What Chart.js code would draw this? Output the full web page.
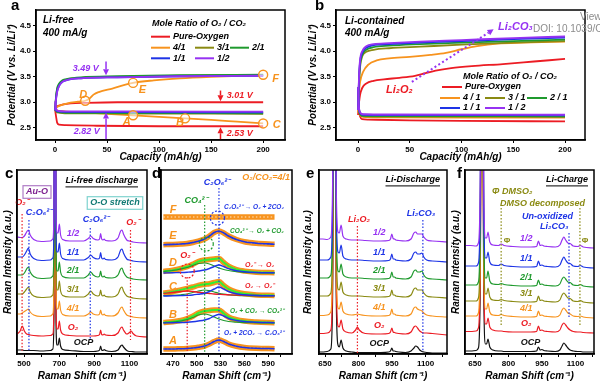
<!DOCTYPE html>
<html>
<head>
<meta charset="utf-8">
<title>O2/CO2 discharge-charge and Raman panels</title>
<script src="https://cdn.jsdelivr.net/npm/chart.js@4.4.1/dist/chart.umd.min.js"></script>
<style>
  body { margin: 0; background: #fff; }
  #wrap { position: relative; width: 600px; height: 384px; overflow: hidden; }
  canvas { position: absolute; }
  .tag { position: absolute; font: bold 15px "Liberation Sans", Arial, sans-serif; color: #000; line-height: 17px; }
  .wm { position: absolute; font: 10px "Liberation Sans", Arial, sans-serif; color: #8c8c8c; white-space: nowrap; }
</style>
</head>
<body>
<div id="wrap">
  <canvas id="chartA" width="292" height="163" style="left:0;top:0"></canvas>
  <canvas id="chartB" width="300" height="163" style="left:300px;top:0"></canvas>
  <canvas id="chartC" width="150" height="217" style="left:0;top:165px"></canvas>
  <canvas id="chartD" width="150" height="217" style="left:150px;top:165px"></canvas>
  <canvas id="chartE" width="152" height="217" style="left:298px;top:165px"></canvas>
  <canvas id="chartF" width="150" height="217" style="left:450px;top:165px"></canvas>
  <div class="tag" style="left:11px;top:-4px">a</div>
  <div class="tag" style="left:315px;top:-4px">b</div>
  <div class="tag" style="left:5px;top:164px">c</div>
  <div class="tag" style="left:152px;top:164px">d</div>
  <div class="tag" style="left:306px;top:164px">e</div>
  <div class="tag" style="left:457px;top:164px">f</div>
  <div class="wm" style="left:580px;top:11px">View Article Online</div>
  <div class="wm" style="left:533px;top:23px">DOI: 10.1039/C6EE</div>
</div>
<script>
const FONT = '"Liberation Sans", Arial, sans-serif';
const RED = '#ec1c24', ORANGE = '#f7931e', OLIVE = '#8a8a12', GREEN = '#1f9a2e',
      BLUE = '#1e34e6', PURPLE = '#9632f2', BLACK = '#111111', LIME = '#33ee33';

// ---- panels a / b : galvanostatic curves, [capacity, potential] ----
const ratioNames = ['Pure-Oxygen', '4/1', '3/1', '2/1', '1/1', '1/2'];
const ratioNamesB = ['Pure-Oxygen', '4 / 1', '3 / 1', '2 / 1', '1 / 1', '1 / 2'];
const ratioColors = [RED, ORANGE, OLIVE, GREEN, BLUE, PURPLE];
const capTicks = [0, 50, 100, 150, 200];
const potTicks = [2.5, 3.0, 3.5, 4.0, 4.5];

const aDisO2 = [[0,2.86],[1,2.72],[2,2.6],[4,2.56],[10,2.55],[40,2.54],[100,2.53],[200,2.53]];
const aChgO2 = [[0,2.9],[3,2.93],[8,2.96],[15,2.98],[30,2.99],[60,3.0],[200,3.0]];
const aDis41 = [[0,2.85],[5,2.83],[25,2.8],[50,2.775],[75,2.745],[100,2.715],[125,2.685],[150,2.655],[175,2.62],[200,2.585]];
const aChg41 = [[0,2.88],[4,2.93],[12,2.98],[22,3.01],[29,3.03],[33,3.07],[37,3.15],[42,3.2],[55,3.27],[75,3.38],[95,3.43],[120,3.47],[150,3.5],[200,3.535]];
const aDis31 = [[0,2.86],[2,2.8],[10,2.785],[60,2.78],[200,2.775]];
const aChg31 = [[0,2.84],[1,3.1],[2,3.25],[4,3.35],[7,3.41],[12,3.45],[25,3.48],[60,3.5],[120,3.52],[200,3.53]];
const aDis21 = [[0,2.87],[2,2.81],[10,2.795],[60,2.79],[200,2.785]];
const aChg21 = [[0,2.84],[1,3.12],[2,3.27],[4,3.37],[7,3.43],[12,3.46],[25,3.49],[60,3.51],[120,3.53],[200,3.54]];
const aDis11 = [[0,2.88],[2,2.82],[10,2.81],[60,2.805],[200,2.8]];
const aChg11 = [[0,2.84],[1,3.08],[2,3.22],[4,3.33],[7,3.4],[12,3.44],[25,3.47],[60,3.49],[120,3.51],[200,3.52]];
const aDis12 = [[0,3.02],[1,2.88],[3,2.83],[10,2.82],[60,2.82],[200,2.815]];
const aChg12 = [[0,2.84],[1,3.06],[2,3.2],[4,3.32],[7,3.4],[12,3.44],[25,3.47],[60,3.49],[120,3.51],[200,3.52]];
const aMarks = [[75,2.745],[125,2.685],[200,2.585],[29,3.03],[75,3.38],[200,3.54]];
const aMarkNames = ['A', 'B', 'C', 'D', 'E', 'F'];

const bDisO2 = [[0,3.3],[1,2.85],[2,2.72],[4,2.67],[10,2.66],[50,2.645],[100,2.635],[200,2.625]];
const bChgO2 = [[0,2.75],[1,3.0],[2,3.15],[4,3.28],[8,3.37],[15,3.42],[25,3.45],[40,3.48],[55,3.52],[65,3.57],[75,3.62],[90,3.67],[110,3.71],[140,3.75],[170,3.8],[200,3.85]];
const bDis41 = [[0,3.3],[1,2.85],[2,2.75],[5,2.715],[20,2.705],[100,2.7],[200,2.7]];
const bChg41 = [[0,2.8],[1,3.2],[2,3.4],[5,3.6],[10,3.74],[18,3.82],[30,3.86],[50,3.89],[70,3.93],[85,3.97],[100,4.04],[115,4.1],[135,4.15],[160,4.17],[200,4.19]];
const bDis31 = [[0,3.3],[1,2.85],[2,2.76],[5,2.725],[30,2.72],[200,2.715]];
const bChg31 = [[0,2.85],[1,3.4],[2,3.7],[4,3.9],[8,3.99],[15,4.03],[30,4.06],[60,4.09],[100,4.13],[150,4.17],[200,4.2]];
const bDis21 = [[0,3.3],[1,2.86],[2,2.77],[5,2.735],[30,2.73],[200,2.725]];
const bChg21 = [[0,2.85],[1,3.45],[2,3.75],[4,3.93],[8,4.03],[15,4.08],[30,4.11],[60,4.14],[100,4.17],[150,4.2],[200,4.23]];
const bDis11 = [[0,3.3],[1,2.87],[2,2.79],[5,2.755],[30,2.75],[200,2.745]];
const bChg11 = [[0,2.85],[1,3.5],[2,3.8],[4,3.97],[8,4.07],[15,4.12],[30,4.14],[60,4.17],[100,4.2],[150,4.24],[200,4.27]];
const bDis12 = [[0,3.3],[1,2.88],[2,2.8],[5,2.765],[30,2.76],[200,2.755]];
const bChg12 = [[0,2.85],[1,3.55],[2,3.85],[4,4.0],[8,4.1],[15,4.14],[30,4.16],[60,4.19],[100,4.22],[150,4.26],[200,4.29]];

// ---- panels c / e / f : stacked Raman spectra (intensity above own baseline) ----
const stackNames = ['OCP', 'O₂', '4/1', '3/1', '2/1', '1/1', '1/2'];
const stackColors = [BLACK, RED, ORANGE, OLIVE, GREEN, BLUE, PURPLE];

const cX = [460,478,490,502,515,525,535,555,600,650,664,670,676,682,688,694,701,708,720,760,840,866,880,894,920,930,936,942,950,956,964,1000,1035,1050,1058,1066,1085,1100,1110,1120,1140,1200];
const cOCP = [2,2,2,1.5,1.5,1.5,1.5,1.5,1,1.5,3,30,400,30,7,7,14,6,2.5,1.5,0.5,0.5,0.5,0.5,1,2,6,2,1.5,2.5,1.5,0.5,2,6,7,5,1.5,0.5,0.5,0.3,0,0];
const cO2  = [3,6,11,6,3,2.5,2,1.5,1,1.5,3,30,400,30,8,8,16,7,3,1.5,1,1,1,1,1.5,2.5,7,2.5,2,3,2,1.5,4,9,10,7,3,4.5,6,3.5,1,0];
const c41  = [4,4,5,6.5,8,9,6,3,1.5,2,4,30,400,30,9,9,17,8,3.5,2,2,4,6,4,3,4,8,4,3,4,2.5,2,5,10,11,8,3,2,1.5,1,0.5,0];
const c31  = [5,5,5,7,10,12,7,3,1.5,2,4,30,400,30,9,9,18,8,3.5,2,2,5,8,5,3,4,9,4,3,4,2.5,2,5,11,12,8,3,2,1.5,1,0.5,0];
const c21  = [5,5,5,7,11,13,8,3.5,1.5,2,4,30,400,30,9,9,18,8,3.5,2,2,5,8,5,3,4,9,4,3,4,2.5,2,5,11,12,8,3,2,1.5,1,0.5,0];
const c11  = [5,5,5,7,11,14,8,3.5,1.5,2,4,30,400,30,10,10,19,8,3.5,2,2,4.5,7,4.5,3,4,9.5,4,3,4,2.5,2,5,12,13,9,3,2,1.5,1,0.5,0];
const c12  = [6,5.5,5.5,7,11,13,8,3.5,1.5,2,4,30,400,30,10,10,19,8,3.5,2,2,4.5,7,4.5,3,4,9.5,4,3,4,2.5,2,5,12,13,9,3,2,1.5,1,0.5,0];
const cOff = [2, 17, 36, 55, 74, 92, 111];
const cTicks = [500, 600, 700, 800, 900, 1000, 1100];
const cLabels = [500, 700, 900, 1100];

const eX = [620,640,660,676,684,692,700,708,714,722,730,745,770,787,795,803,830,900,935,943,949,955,961,967,980,1010,1035,1048,1056,1064,1074,1084,1092,1105,1130,1196];
const eOCP = [1,1,1.5,4,60,400,60,8,6,13,5,2,1,0.5,0.5,0.5,0.5,0.5,1,2,5,2,2,1.5,1,0.5,2,5,7,6,3,1.5,1,0.5,0,0];
const eO2  = [1.5,1.5,2,5,60,400,60,9,8,15,6,3,2,5,8,5,1.5,1,1.5,3,7,3,2.5,2,1.5,1,3,8,9,7,4,2.5,2,2,1.5,0];
const e41  = [1.5,1.5,2,5,60,400,60,9,8,15,6,3,2,2.5,3,2.5,1.5,1,1.5,3,8,3,3,2,1.5,1,3,9,10,8,7,6,4,2,1,0];
const e31  = [2,2,2,5,60,400,60,9,8,16,6,3,2,2,2,2,1.5,1,1.5,3,8,3,3,2,1.5,1,3,9,10,8,8,8,5,2,1,0];
const e21  = [2,2,2,5,60,400,60,9,8,16,6,3,2,2,2,2,1.5,1,1.5,3,8,3,3,2,1.5,1,3,9,10,8,8,9,5,2,1,0];
const e11  = [2,2,2,5,60,400,60,10,9,17,6,3,2,2,2,2,1.5,1,1.5,3,8,3,3,2,1.5,1,3,9,10,8,8,9,5,2,1,0];
const e12  = [3,3,2.5,5,60,400,60,10,9,17,6,3,2,2,2,2,1.5,1,1.5,3,8,3.5,3,2,1.5,1,3,9,10,8,8,8,5,2,1,0];
const eOff = [1, 19, 37, 56, 74, 92, 112];

const fX = [605,630,655,665,673,681,689,697,702,708,716,730,755,767,780,820,900,926,934,942,950,958,975,1010,1030,1040,1048,1056,1066,1076,1090,1110,1122,1135,1183];
const fOCP = [1,1,1.5,4,60,400,60,8,8,13,5,2,1,1,0.5,0.5,0.5,1,5,2,2.5,1.5,1,0.5,2,6,9,7,4,2,1,0.5,0.5,0,0];
const fO2  = [1.5,1.5,2,5,60,400,60,9,9,15,6,3,2,2,1.5,1,1,1.5,7,2.5,3,2,1.5,1,3,8,10,8,5,3,1.5,1,1,0.5,0];
const f41  = [2,2,2,5,60,400,60,9,9,15,6,3,2.5,3.5,2.5,1.5,1,1.5,7,2.5,3,2,1.5,1,3,8,10,8,5,4,2,1.5,2,1,0];
const f31  = [2,2,2,5,60,400,60,9,9,15,6,3,2.5,3.5,2.5,1.5,1,1.5,7,2.5,3,2,1.5,1,3,8,10,8,5,4.5,2,1.5,2.5,1,0];
const f21  = [2,2,2,5,60,400,60,9,9,16,6,3,2.5,3.5,2.5,1.5,1,1.5,7,2.5,3,2,1.5,1,3,8,10,8,5,4.5,2,1.5,2.5,1,0];
const f11  = [2,2,2,5,60,400,60,10,10,16,6,3,2.5,4,2.5,1.5,1,1.5,7,2.5,3,2,1.5,1,3,8,11,8,5,4.5,2,1.5,2.5,1,0];
const f12  = [2.5,2.5,2,5,60,400,60,10,10,16,6,3,2.5,4,2.5,1.5,1,1.5,7,2.5,3,2,1.5,1,3,8,11,8,5,4.5,2,1.5,2.5,1,0];
const fOff = [2, 21, 36, 51, 67, 86, 106];
const efTicks = [650, 725, 800, 875, 950, 1025, 1100, 1175];
const efLabels = [650, 800, 950, 1100];

// ---- panel d : fitted 500-530 cm-1 region, states A..F ----
const dNames = ['A', 'B', 'C', 'D', 'E', 'F'];
const dX = [458,470,480,488,495,502,510,516,522,528,534,540,550,560,575,598];
const dA = [0,0,0.3,0.5,1,1.8,3,5,7.5,9,7.5,5,2.8,1.6,0.8,0.3];
const dB = [0.5,1.3,2.5,4.3,6.8,10,12,12.5,13,13,9.5,6,3.3,1.9,1,0.3];
const dBgreen = [0.5,1,2,3.5,5.5,8,9,8,6,4,2.5,1.5,0.8,0.4,0.2,0];
const dBblue = [0,0.3,0.5,0.8,1.3,2,3,4.5,7,8.5,7,4.5,2.5,1.5,0.8,0.3];
const dC = [2.8,4.3,6.1,7.6,9,10.6,11.8,12.3,13.5,14.5,10.5,7,3.8,2.2,1.1,0.5];
const dCred = [2.5,3.5,4.5,5,4.5,3.8,3,2.5,2,1.7,1.4,1.2,0.9,0.7,0.5,0.3];
const dCgreen = [0.3,0.6,1.2,2,3.5,5,6,5.3,4,2.7,1.8,1.2,0.6,0.3,0.1,0];
const dCblue = [0,0.2,0.4,0.6,1,1.8,2.8,4.5,7,9,7,4.5,2.2,1.2,0.5,0.2];
const dD = [1.5,2.8,4.5,6.3,8.7,11.5,13,13.5,14,14.5,10.5,7,3.5,1.9,0.8,0.3];
const dDgreen = [1.5,2.5,4,5.5,7.5,9.5,10,9,7,5,3.5,2.5,1.3,0.7,0.3,0.1];
const dDblue = [0,0.3,0.5,0.8,1.2,2,3,4.5,6.5,8,6.5,4.3,2.2,1.2,0.5,0.2];
const dE = [0.3,0.6,1,1.5,2.5,3.8,6,9,12.5,14,12,9,5.5,3.3,1.8,0.8];
const dF = [0,0,0,0,0,0,0,0,0,0,0,0,0,0,0,0];
const dOff = [5, 31, 58, 81, 109, 137];
const dTicks = [470, 485, 500, 515, 530, 545, 560, 575, 590, 605];
const dLabels = [470, 500, 530, 560, 590];

// ---------------------------------------------------------------
Chart.defaults.font.family = FONT;
Chart.defaults.color = '#000';

const pairs = arr => arr.map(p => ({ x: p[0], y: p[1] }));
const stacked = (xs, ys, off) => xs.map((x, i) => ({ x, y: ys[i] + off }));

function fnt(size, italic) {
  return (italic ? 'italic ' : '') + 'bold ' + size + 'px ' + FONT;
}

function drawArrow(ctx, x1, y1, x2, y2, c, dash, w) {
  const a = Math.atan2(y2 - y1, x2 - x1), h = 6;
  const xs = x2 - h * Math.cos(a), ys = y2 - h * Math.sin(a);
  ctx.strokeStyle = c; ctx.fillStyle = c; ctx.lineWidth = w || 1.5;
  ctx.setLineDash(dash || []);
  ctx.beginPath(); ctx.moveTo(x1, y1); ctx.lineTo(xs, ys); ctx.stroke();
  ctx.setLineDash([]);
  ctx.beginPath();
  ctx.moveTo(x2, y2);
  ctx.lineTo(xs - 3 * Math.sin(a), ys + 3 * Math.cos(a));
  ctx.lineTo(xs + 3 * Math.sin(a), ys - 3 * Math.cos(a));
  ctx.closePath(); ctx.fill();
}

function drawLabel(ctx, s, x, y, t) {
  const size = t.size || 9;
  ctx.font = fnt(size, t.it !== false);
  ctx.fillStyle = t.c || '#000';
  ctx.textAlign = t.align || 'left';
  ctx.textBaseline = 'middle';
  ctx.fillText(s, x, y);
  const w = ctx.measureText(s).width;
  const x0 = t.align === 'right' ? x - w : t.align === 'center' ? x - w / 2 : x;
  if (t.ul) ctx.fillRect(x0, y + size * 0.6, w, 1);
  if (t.box) {
    ctx.strokeStyle = t.box; ctx.lineWidth = 1.2;
    ctx.strokeRect(x0 - 3, y - size * 0.7, w + 6, size * 1.4);
  }
}

// per-canvas decorations: guide lines, arrows, texts, legends, frame
const decoCfg = {};

const deco = {
  id: 'deco',
  afterDatasetsDraw(chart) {
    const o = decoCfg[chart.canvas.id] || {};
    const { ctx, chartArea: ca } = chart;
    const X = v => chart.scales.x.getPixelForValue(v);
    const Y = v => chart.scales.y.getPixelForValue(v);
    ctx.save();
    (o.vlines || []).forEach(l => {
      ctx.strokeStyle = l.c; ctx.lineWidth = 1.2; ctx.setLineDash([1.5, 1.8]);
      ctx.beginPath(); ctx.moveTo(X(l.x), Y(l.y1)); ctx.lineTo(X(l.x), Y(l.y2)); ctx.stroke();
    });
    (o.circles || []).forEach(k => {
      ctx.strokeStyle = k.c; ctx.lineWidth = 1.2; ctx.setLineDash([2, 1.8]);
      ctx.beginPath(); ctx.arc(X(k.x), Y(k.y), k.r, 0, Math.PI * 2); ctx.stroke();
    });
    ctx.setLineDash([]);
    (o.arrows || []).forEach(a => drawArrow(ctx, X(a.x1), Y(a.y1), X(a.x2), Y(a.y2), a.c, a.dash, a.w));
    (o.texts || []).forEach(t => {
      const px = t.rel ? ca.left + t.x : X(t.x);
      const py = t.rel ? ca.top + t.y : Y(t.y);
      drawLabel(ctx, t.t, px, py, t);
    });
    if (o.stack) {
      const s = o.stack;
      s.offsets.forEach((off, i) => {
        drawLabel(ctx, stackNames[i], X(s.x + (i === 0 ? s.ocpDx : 0)), Y(off + s.dy[i]),
          { c: stackColors[i], size: 9, align: 'center' });
      });
    }
    if (o.legend) {
      const L = o.legend;
      drawLabel(ctx, L.title, ca.left + L.tx, ca.top + L.ty, { size: 9 });
      L.pos.forEach((p, i) => {
        const x = ca.left + p[0], y = ca.top + p[1];
        ctx.strokeStyle = ratioColors[i]; ctx.lineWidth = 2;
        ctx.beginPath(); ctx.moveTo(x, y); ctx.lineTo(x + L.len, y); ctx.stroke();
        drawLabel(ctx, L.names[i], x + L.len + 3, y, { size: 9 });
      });
    }
    ctx.strokeStyle = '#000'; ctx.lineWidth = 1.5;
    ctx.strokeRect(ca.left, ca.top, ca.width, ca.height);
    ctx.restore();
  }
};

function xAxis(min, max, ticks, labels, fmt, title, h) {
  return {
    type: 'linear', min, max,
    afterBuildTicks: s => { s.ticks = ticks.map(v => ({ value: v })); },
    afterFit: s => { s.height = h; },
    ticks: {
      autoSkip: false, maxRotation: 0, padding: 2, color: '#000',
      font: { size: 8, weight: 'bold' },
      callback: v => labels.includes(v) ? fmt(v) : ''
    },
    grid: { drawOnChartArea: false, drawTicks: true, tickLength: 3, color: '#000' },
    border: { display: true, color: '#000', width: 1.5 },
    title: { display: true, text: title, color: '#000', padding: 0,
      font: { size: 10, weight: 'bold', style: 'italic' } }
  };
}

function yAxis(min, max, ticks, fmt, title, w) {
  return {
    type: 'linear', min, max,
    afterBuildTicks: s => { s.ticks = (ticks || []).map(v => ({ value: v })); },
    afterFit: s => { s.width = w; },
    ticks: {
      display: !!ticks, padding: 2, color: '#000',
      font: { size: 8, weight: 'bold' },
      callback: v => fmt ? fmt(v) : ''
    },
    grid: { drawOnChartArea: false, drawTicks: !!ticks, tickLength: 3, color: '#000' },
    border: { display: true, color: '#000', width: 1.5 },
    title: { display: !!title, text: title, color: '#000', padding: 0,
      font: { size: 10, weight: 'bold', style: 'italic' } }
  };
}

function makeChart(id, datasets, pad, x, y) {
  return new Chart(document.getElementById(id), {
    type: 'line',
    data: { datasets },
    options: {
      responsive: false, animation: false, events: [],
      layout: { padding: pad },
      elements: { point: { radius: 0 }, line: { borderWidth: 1.3 } },
      plugins: { legend: { display: false }, tooltip: { enabled: false } },
      scales: { x, y }
    },
    plugins: [deco]
  });
}

function curve(data, color, width, order) {
  return { data, borderColor: color, borderWidth: width, order,
    cubicInterpolationMode: 'monotone', pointRadius: 0 };
}

// ---------------- panel a ----------------
const aCurves = [[aDisO2, aChgO2], [aDis41, aChg41], [aDis31, aChg31], [aDis21, aChg21], [aDis11, aChg11], [aDis12, aChg12]];
const aSets = [];
aCurves.forEach((pr, i) => pr.forEach(arr => aSets.push(curve(pairs(arr), ratioColors[i], 1.8, 10 - i))));
aSets.push({ data: pairs(aMarks), showLine: false, pointRadius: 4.5, pointBorderWidth: 1.4,
  pointBorderColor: ORANGE, pointBackgroundColor: 'rgba(255,255,255,0.55)', order: 0 });

decoCfg.chartA = {
  arrows: [
    { x1: 49, y1: 3.8, x2: 49, y2: 3.53, c: PURPLE },
    { x1: 49, y1: 2.27, x2: 49, y2: 2.8, c: PURPLE },
    { x1: 159, y1: 3.23, x2: 159, y2: 3.02, c: RED },
    { x1: 159, y1: 2.27, x2: 159, y2: 2.51, c: RED }
  ],
  texts: [
    { t: 'Li-free', x: 7, y: 10, rel: true, size: 10 },
    { t: '400 mA/g', x: 7, y: 23, rel: true, size: 10 },
    { t: '3.49 V', x: 42, y: 3.67, c: PURPLE, align: 'right' },
    { t: '2.82 V', x: 43, y: 2.42, c: PURPLE, align: 'right' },
    { t: '3.01 V', x: 165, y: 3.14, c: RED },
    { t: '2.53 V', x: 165, y: 2.39, c: RED },
    ...aMarkNames.map((n, i) => ({ t: n, x: [69, 120, 213, 27, 84, 212][i], y: [2.62, 2.6, 2.55, 3.14, 3.25, 3.46][i],
      c: ORANGE, size: 11, align: 'center' }))
  ],
  legend: { title: 'Mole Ratio of O₂ / CO₂', tx: 116, ty: 14, len: 19, names: ratioNames,
    pos: [[115, 26.7], [115, 37.7], [159, 37.7], [194, 37.7], [115, 48.3], [159, 48.3]] }
};

makeChart('chartA', aSets, { left: 6, top: 10, right: 7 },
  xAxis(-18.3, 221, capTicks, capTicks, v => String(v), 'Capacity (mAh/g)', 23),
  yAxis(2.26, 4.81, potTicks, v => v.toFixed(1), 'Potential (V vs. Li/Li⁺)', 30));

// ---------------- panel b ----------------
const bCurves = [[bDisO2, bChgO2], [bDis41, bChg41], [bDis31, bChg31], [bDis21, bChg21], [bDis11, bChg11], [bDis12, bChg12]];
const bSets = [];
bCurves.forEach((pr, i) => pr.forEach(arr => bSets.push(curve(pairs(arr), ratioColors[i], 1.8, 10 - i))));

decoCfg.chartB = {
  arrows: [{ x1: 52, y1: 3.4, x2: 131, y2: 4.43, c: PURPLE, dash: [2, 2.5], w: 2 }],
  texts: [
    { t: 'Li-contained', x: 9, y: 11, rel: true, size: 10 },
    { t: '400 mA/g', x: 9, y: 23, rel: true, size: 10 },
    { t: 'Li₂O₂', x: 40, y: 3.25, c: RED, size: 11, align: 'center' },
    { t: 'Li₂CO₃', x: 152, y: 4.48, c: PURPLE, size: 11, align: 'center' }
  ],
  legend: { title: 'Mole Ratio of O₂ / CO₂', tx: 127, ty: 67, len: 20, names: ratioNamesB,
    pos: [[106, 77], [104, 88], [149, 88], [191, 88], [104, 98], [149, 98]] }
};

makeChart('chartB', bSets, { left: 7, top: 10, right: 15 },
  xAxis(-21.3, 219.3, capTicks, capTicks, v => String(v), 'Capacity (mAh/g)', 23),
  yAxis(2.26, 4.81, potTicks, v => v.toFixed(1), 'Potential (V vs. Li/Li⁺)', 29));

// ---------------- stacked spectra helper ----------------
function stackSets(xs, rows, offs) {
  return rows.map((ys, i) => curve(stacked(xs, ys, offs[i]), stackColors[i], 1.2, 10 - i));
}

// ---------------- panel c ----------------
decoCfg.chartC = {
  vlines: [
    { x: 489, y1: 140, y2: 2, c: RED }, { x: 528, y1: 134, y2: 2, c: BLUE },
    { x: 877, y1: 126, y2: 14, c: BLUE }, { x: 1106, y1: 124, y2: 14, c: RED }
  ],
  texts: [
    { t: 'Li-free discharge', x: 121, y: 11, rel: true, align: 'right', ul: true, size: 9 },
    { t: 'Au-O', x: 20, y: 22, rel: true, align: 'center', c: '#7d1f8f', box: '#b07cc6', size: 9 },
    { t: 'O₂⁻', x: 5, y: 33, rel: true, align: 'center', c: RED, size: 9 },
    { t: 'C₂O₆²⁻', x: 22, y: 43, rel: true, align: 'center', c: BLUE, size: 9 },
    { t: 'O-O stretch', x: 98, y: 33, rel: true, align: 'center', c: '#127a74', box: '#7fd3cf', size: 9 },
    { t: 'C₂O₆²⁻', x: 79, y: 50, rel: true, align: 'center', c: BLUE, size: 9 },
    { t: 'O₂⁻', x: 116, y: 53, rel: true, align: 'center', c: RED, size: 9 }
  ],
  stack: { x: 779, ocpDx: 60, offsets: cOff, dy: [9, 9, 9, 9, 9, 9, 9] }
};
makeChart('chartC', stackSets(cX, [cOCP, cO2, c41, c31, c21, c11, c12], cOff),
  { left: 2, top: 5, right: 3 },
  xAxis(460, 1200, cTicks, cLabels, v => String(v), 'Raman Shift (cm⁻¹)', 28),
  yAxis(0, 184, null, null, 'Raman Intensity (a.u.)', 15));

// ---------------- panel d ----------------
const dRows = [dA, dB, dC, dD, dE, dF];
const dSets = [];
dRows.forEach((ys, i) => {
  const pts = stacked(dX, ys, dOff[i]);
  dSets.push({ data: pts, borderColor: ORANGE, borderWidth: 5.5, order: 20, cubicInterpolationMode: 'monotone' });
  dSets.push({ data: pts, borderColor: 'rgba(255,236,210,0.95)', borderWidth: 1.2, borderDash: [1.5, 2.2], order: 19, cubicInterpolationMode: 'monotone' });
});
dSets.push(curve(stacked(dX, dA, dOff[0]), BLUE, 1.5, 5));
[[dB, dOff[1]], [dC, dOff[2]], [dD, dOff[3]]].forEach(([ys, off]) => dSets.push(curve(stacked(dX, ys, off), LIME, 2, 6)));
dSets.push(curve(stacked(dX, dBgreen, dOff[1]), GREEN, 1.2, 4));
dSets.push(curve(stacked(dX, dBblue, dOff[1]), BLUE, 1.4, 3));
dSets.push(curve(stacked(dX, dCred, dOff[2]), RED, 1.4, 4));
dSets.push(curve(stacked(dX, dCgreen, dOff[2]), GREEN, 1.2, 4));
dSets.push(curve(stacked(dX, dCblue, dOff[2]), BLUE, 1.4, 3));
dSets.push(curve(stacked(dX, dDgreen, dOff[3]), GREEN, 1.2, 4));
dSets.push(curve(stacked(dX, dDblue, dOff[3]), BLUE, 1.4, 3));
dSets.push(curve(stacked(dX, dE, dOff[4]), BLUE, 1.6, 3));

decoCfg.chartD = {
  vlines: [
    { x: 528, y1: 166, y2: 1, c: BLUE }, { x: 510, y1: 149, y2: 1, c: GREEN }, { x: 488, y1: 77, y2: 1, c: RED }
  ],
  circles: [
    { x: 526, y: 136, r: 7, c: BLUE }, { x: 512, y: 110, r: 7, c: GREEN }, { x: 488, y: 83, r: 7, c: RED }
  ],
  texts: [
    { t: 'O₂/CO₂=4/1', x: 129, y: 8, rel: true, align: 'right', c: ORANGE, size: 9 },
    { t: 'C₂O₆²⁻', x: 56, y: 13, rel: true, align: 'center', c: BLUE, size: 9 },
    { t: 'CO₄²⁻', x: 35, y: 31, rel: true, align: 'center', c: GREEN, size: 9 },
    { t: 'C₂O₆²⁻ → O₂ + 2CO₂', x: 63, y: 37, rel: true, c: BLUE, size: 6.5 },
    { t: 'CO₄²⁻ → O₂ + CO₂', x: 69, y: 61, rel: true, c: GREEN, size: 6.5 },
    { t: 'O₂⁻', x: 26, y: 86, rel: true, align: 'center', c: RED, size: 9 },
    { t: 'O₂⁻ → O₂', x: 84, y: 95, rel: true, c: RED, size: 7 },
    { t: 'O₂ → O₂⁻', x: 84, y: 116, rel: true, c: RED, size: 7 },
    { t: 'O₂ + CO₂ → CO₄²⁻', x: 69, y: 141, rel: true, c: GREEN, size: 6.5 },
    { t: 'O₂ + 2CO₂ → C₂O₆²⁻', x: 63, y: 163, rel: true, c: BLUE, size: 6.5 },
    ...dNames.map((n, i) => ({ t: n, x: 12, y: [171, 145, 117, 93, 66, 40][i], rel: true, align: 'center', c: ORANGE, size: 11 }))
  ]
};
makeChart('chartD', dSets, { left: 0, top: 5, right: 8 },
  xAxis(455, 620, dTicks, dLabels, v => String(v), 'Raman Shift (cm⁻¹)', 28),
  yAxis(0, 184, null, null, '', 11));

// ---------------- panel e ----------------
decoCfg.chartE = {
  vlines: [{ x: 795, y1: 128, y2: 1, c: RED }, { x: 1088, y1: 134, y2: 3, c: BLUE }],
  texts: [
    { t: 'Li-Discharge', x: 121, y: 10, rel: true, align: 'right', ul: true, size: 9 },
    { t: 'Li₂O₂', x: 40, y: 50, rel: true, align: 'center', c: RED, size: 9 },
    { t: 'Li₂CO₃', x: 102, y: 44, rel: true, align: 'center', c: BLUE, size: 9 }
  ],
  stack: { x: 893, ocpDx: 0, offsets: eOff, dy: [9, 9, 9, 9, 9, 9, 9] }
};
makeChart('chartE', stackSets(eX, [eOCP, eO2, e41, e31, e21, e11, e12], eOff),
  { left: 4, top: 5, right: 3 },
  xAxis(623, 1196, efTicks, efLabels, v => String(v), 'Raman Shift (cm⁻¹)', 28),
  yAxis(0, 184, null, null, 'Raman Intensity (a.u.)', 17));

// ---------------- panel f ----------------
decoCfg.chartF = {
  vlines: [
    { x: 767, y1: 146, y2: 28, c: OLIVE }, { x: 1120, y1: 146, y2: 28, c: OLIVE }, { x: 1071, y1: 121, y2: 36, c: BLUE }
  ],
  texts: [
    { t: 'Li-Charge', x: 123, y: 10, rel: true, align: 'right', ul: true, size: 9 },
    { t: 'Φ DMSO₂', x: 27, y: 22, rel: true, c: OLIVE, size: 9 },
    { t: 'DMSO decomposed', x: 35, y: 34, rel: true, c: OLIVE, size: 9 },
    { t: 'Un-oxidized', x: 57, y: 47, rel: true, c: BLUE, size: 9 },
    { t: 'Li₂CO₃', x: 75, y: 57, rel: true, c: BLUE, size: 9 },
    { t: 'Φ', x: 42, y: 71, rel: true, align: 'center', c: OLIVE, size: 8, it: false },
    { t: 'Φ', x: 120, y: 71, rel: true, align: 'center', c: OLIVE, size: 8, it: false }
  ],
  stack: { x: 879, ocpDx: 20, offsets: fOff, dy: [9, 9, 9, 9, 9, 9, 9] }
};
makeChart('chartF', stackSets(fX, [fOCP, fO2, f41, f31, f21, f11, f12], fOff),
  { left: 0, top: 5, right: 6 },
  xAxis(605, 1183, efTicks, efLabels, v => String(v), 'Raman Shift (cm⁻¹)', 28),
  yAxis(0, 184, null, null, 'Raman Intensity (a.u.)', 15));
</script>
</body>
</html>
